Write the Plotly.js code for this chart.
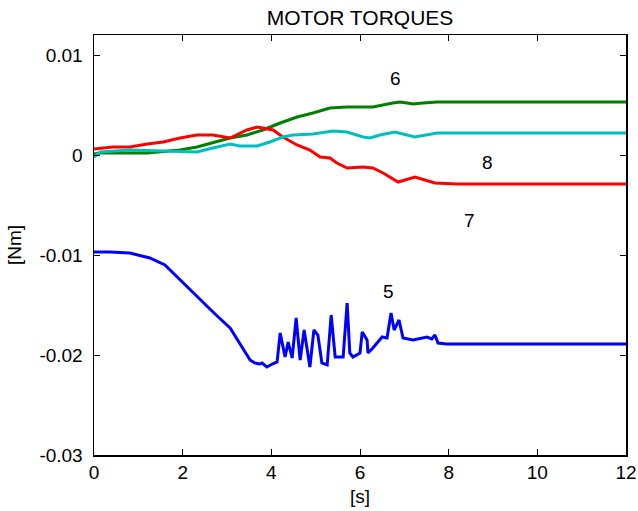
<!DOCTYPE html>
<html>
<head>
<meta charset="utf-8">
<script src="https://cdn.plot.ly/plotly-3.0.1.min.js"></script>
<style>html,body{margin:0;padding:0;background:#fff;}#chart{width:638px;height:511px;}</style>
</head>
<body>
<div id="chart"></div>
<script>
// Motor 5 (blue)
const t5 = [0, 0.36, 0.81, 1.26, 1.60, 1.94, 2.39, 2.73, 3.07, 3.29, 3.52, 3.63, 3.74, 3.79, 3.90, 4.02, 4.13, 4.20, 4.31, 4.38, 4.47, 4.56, 4.65, 4.74, 4.87, 4.96, 5.05, 5.14, 5.26, 5.35, 5.44, 5.55, 5.62, 5.71, 5.77, 5.84, 6.00, 6.05, 6.16, 6.18, 6.29, 6.50, 6.61, 6.70, 6.77, 6.88, 6.97, 7.20, 7.51, 7.62, 7.69, 7.76, 7.96, 8.71, 12];
const v5 = [-0.0097, -0.0097, -0.0098, -0.0103, -0.0110, -0.0125, -0.0145, -0.0159, -0.0173, -0.0188, -0.0205, -0.0208, -0.0209, -0.0208, -0.0212, -0.0209, -0.0207, -0.0178, -0.0202, -0.0187, -0.0203, -0.0163, -0.0205, -0.0175, -0.0212, -0.0175, -0.0180, -0.0208, -0.0210, -0.0160, -0.0202, -0.0202, -0.0202, -0.0148, -0.0198, -0.0202, -0.0198, -0.0177, -0.0185, -0.0198, -0.0193, -0.0182, -0.0183, -0.0158, -0.0175, -0.0165, -0.0183, -0.0185, -0.0182, -0.0184, -0.0180, -0.0188, -0.0189, -0.0189, -0.0189];
// Motor 6 (green)
const t6 = [0, 0.14, 1.20, 1.94, 2.32, 2.68, 3.07, 3.45, 3.81, 4.20, 4.58, 4.94, 5.32, 5.71, 6.07, 6.29, 6.74, 6.90, 7.06, 7.20, 7.42, 7.74, 12];
const v6 = [0.0001, 0.0002, 0.0002, 0.0005, 0.0008, 0.0012, 0.0017, 0.0020, 0.0025, 0.0032, 0.0038, 0.0042, 0.0047, 0.0048, 0.0048, 0.0048, 0.0052, 0.0053, 0.0052, 0.0051, 0.0052, 0.0053, 0.0053];
// Motor 7 (red)
const t7 = [0, 0.43, 0.81, 1.20, 1.56, 1.94, 2.32, 2.68, 3.07, 3.45, 3.68, 4.04, 4.26, 4.58, 4.87, 5.10, 5.32, 5.48, 5.71, 6.07, 6.29, 6.52, 6.86, 7.24, 7.69, 8.19, 12];
const v7 = [0.0006, 0.0008, 0.0008, 0.0011, 0.0013, 0.0017, 0.0020, 0.0020, 0.0017, 0.0025, 0.0028, 0.0025, 0.0018, 0.0010, 0.0005, -0.0002, -0.0003, -0.0008, -0.0013, -0.0012, -0.0013, -0.0018, -0.0027, -0.0022, -0.0028, -0.0029, -0.0029];
// Motor 8 (cyan)
const t8 = [0, 0.14, 0.81, 1.94, 2.32, 2.68, 3.07, 3.29, 3.68, 3.97, 4.26, 4.49, 4.94, 5.39, 5.71, 6.07, 6.23, 6.45, 6.79, 7.24, 7.74, 12];
const v8 = [-0.0002, 0.0003, 0.0005, 0.0003, 0.0003, 0.0007, 0.0011, 0.0009, 0.0009, 0.0013, 0.0018, 0.0020, 0.0021, 0.0024, 0.0023, 0.0018, 0.0017, 0.0020, 0.0023, 0.0018, 0.0022, 0.0022];
// Curve labels
const labelText = ["6", "8", "7", "5"];
const labelX = [6.79, 8.87, 8.48, 6.65];
const labelY = [0.0077, -0.0007, -0.0065, -0.0136];
const xTicks = [0, 2, 4, 6, 8, 10, 12];
const yTicks = [-0.03, -0.02, -0.01, 0, 0.01];
const yTickText = ["-0.03", "-0.02", "-0.01", "0", "0.01"];

const FONT = "Liberation Sans, Arial, Helvetica, sans-serif";
const mk = (x, y, c) => ({x: x, y: y, type: "scatter", mode: "lines", line: {color: c, width: 3}, hoverinfo: "skip"});
const data = [
  mk(t5, v5, "#0000ff"),
  mk(t6, v6, "#008000"),
  mk(t7, v7, "#ff0000"),
  mk(t8, v8, "#00bfbf")
];
const axisCommon = {
  showgrid: false, zeroline: false, showline: true, linecolor: "#000", linewidth: 1.5,
  mirror: "ticks", ticks: "inside", ticklen: 6, tickwidth: 1, tickcolor: "#000",
  tickfont: {family: FONT, size: 19, color: "#000"}
};
const layout = {
  width: 638, height: 511,
  margin: {l: 94, r: 12, t: 35, b: 56},
  paper_bgcolor: "#fff", plot_bgcolor: "#fff",
  showlegend: false,
  title: {text: "MOTOR TORQUES", font: {family: FONT, size: 21, color: "#000"}, x: 0.5, xref: "paper", xanchor: "center", y: 1 - 18/511, yref: "container", yanchor: "middle"},
  xaxis: Object.assign({}, axisCommon, {range: [0, 12], tickvals: xTicks, ticktext: xTicks.map(String),
    title: {text: "[s]", font: {family: FONT, size: 19, color: "#000"}, standoff: 7}}),
  yaxis: Object.assign({}, axisCommon, {range: [-0.03, 0.012], tickvals: yTicks, ticktext: yTickText, ticklabelstandoff: 6,
    title: {text: "[Nm]", font: {family: FONT, size: 19, color: "#000"}, standoff: 12}}),
  annotations: labelText.map((s, i) => ({x: labelX[i], y: labelY[i], xref: "x", yref: "y", text: s, showarrow: false,
    font: {family: FONT, size: 19, color: "#000"}, xanchor: "center", yanchor: "middle"}))
};
Plotly.newPlot("chart", data, layout, {staticPlot: true, displayModeBar: false});
</script>
</body>
</html>
